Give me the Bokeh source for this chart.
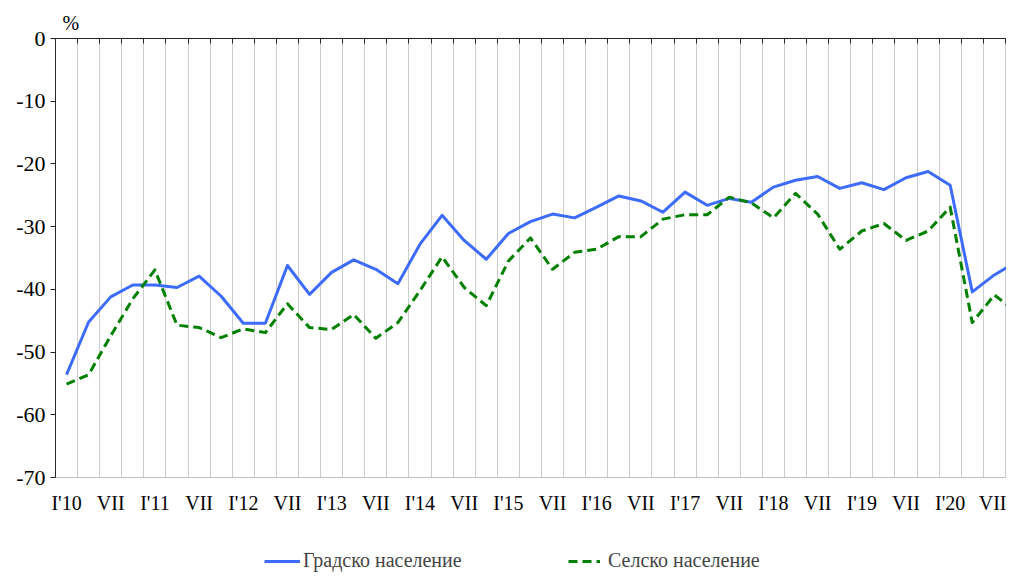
from bokeh.plotting import figure
from bokeh.layouts import column
from bokeh.models import Range1d, LinearAxis, FixedTicker, Legend, LegendItem
from bokeh.embed import file_html
from bokeh.resources import INLINE

# Quarterly periods 2010 Q1 .. 2020 Q4
periods = ["I'10", "IV'10", "VII'10", "X'10", "I'11", "IV'11", "VII'11", "X'11",
           "I'12", "IV'12", "VII'12", "X'12", "I'13", "IV'13", "VII'13", "X'13",
           "I'14", "IV'14", "VII'14", "X'14", "I'15", "IV'15", "VII'15", "X'15",
           "I'16", "IV'16", "VII'16", "X'16", "I'17", "IV'17", "VII'17", "X'17",
           "I'18", "IV'18", "VII'18", "X'18", "I'19", "IV'19", "VII'19", "X'19",
           "I'20", "IV'20", "VII'20", "X'20"]

urban = [-53.6, -45.2, -41.2, -39.3, -39.3, -39.7, -37.9, -41.1, -45.4, -45.4, -36.2,
         -40.8, -37.3, -35.3, -36.8, -39.1, -32.8, -28.2, -32.2, -35.2, -31.1, -29.2,
         -28.0, -28.6, -26.9, -25.1, -25.9, -27.7, -24.5, -26.6, -25.5, -26.1, -23.7,
         -22.6, -22.0, -23.9, -23.0, -24.1, -22.2, -21.2, -23.4, -40.4, -37.7, -35.6]

rural = [-55.1, -53.6, -47.4, -41.5, -36.9, -45.7, -46.1, -47.7, -46.3, -46.9, -42.3,
         -46.1, -46.4, -44.0, -47.8, -45.3, -40.2, -34.8, -39.7, -42.6, -35.5, -31.8,
         -36.8, -34.1, -33.6, -31.6, -31.6, -28.8, -28.1, -28.1, -25.3, -26.2, -28.6,
         -24.7, -28.0, -33.6, -30.7, -29.5, -32.2, -30.7, -26.9, -45.3, -40.9, -43.6]

tick_labels = ["I'10", "VII", "I'11", "VII", "I'12", "VII", "I'13", "VII", "I'14", "VII",
               "I'15", "VII", "I'16", "VII", "I'17", "VII", "I'18", "VII", "I'19", "VII",
               "I'20", "VII"]

y_ticks = [0, -10, -20, -30, -40, -50, -60, -70]
y_tick_labels = ["0", "-10", "-20", "-30", "-40", "-50", "-60", "-70"]

series_names = ["Градско население", "Селско население"]
unit_label = "%"

FONT = "Liberation Serif"
BLUE = "#3D6BFE"
GREEN = "#008000"
x = list(range(len(periods)))

p = figure(width=1006, height=520,
           x_range=Range1d(-0.5, 42.55), y_range=Range1d(-70, 0),
           output_backend="svg", toolbar_location=None,
           x_axis_location=None, y_axis_location=None,
           min_border_left=55, min_border_right=0,
           min_border_top=38, min_border_bottom=43)
p.outline_line_color = None
p.background_fill_color = "white"
p.border_fill_color = "white"

# "%" unit as a left-aligned title
p.title.text = unit_label
p.title.align = "left"
p.title.offset = 7
p.title.standoff = 9
p.title.text_font = FONT
p.title.text_font_size = "20px"
p.title.text_font_style = "normal"
p.title.text_color = "black"

# Left axis
yax = LinearAxis(ticker=FixedTicker(ticks=y_ticks))
yax.major_label_overrides = {t: l for t, l in zip(y_ticks, y_tick_labels)}
yax.axis_line_color = "#262626"
yax.major_tick_line_color = "#262626"
yax.major_tick_in = 0
yax.major_tick_out = 5
yax.minor_tick_line_color = None
yax.major_label_standoff = 5
yax.major_label_text_font = FONT
yax.major_label_text_font_size = "22px"
yax.major_label_text_color = "black"
p.add_layout(yax, "left")

# Category boundaries (gridlines and top ticks)
bounds = [i - 0.5 for i in range(len(periods) + 1)]

# Top axis (line at 0 with inward ticks)
tax = LinearAxis(ticker=FixedTicker(ticks=bounds))
tax.axis_line_color = "#262626"
tax.major_tick_line_color = "#262626"
tax.major_tick_in = 5
tax.major_tick_out = 0
tax.minor_tick_line_color = None
tax.major_label_standoff = 0
tax.major_label_text_alpha = 0
tax.major_label_text_font_size = "0px"
p.add_layout(tax, "above")

# Bottom axis with labels
label_pos = [i for i, per in enumerate(periods) if per.startswith("I'") or per.startswith("VII")]
bax = LinearAxis(ticker=FixedTicker(ticks=label_pos))
bax.major_label_overrides = {pos: lab for pos, lab in zip(label_pos, tick_labels)}
bax.axis_line_color = "#bfbfbf"
bax.major_tick_line_color = None
bax.minor_tick_line_color = None
bax.major_label_standoff = 8
bax.major_label_text_font = FONT
bax.major_label_text_font_size = "20px"
bax.major_label_text_color = "black"
p.add_layout(bax, "below")

p.ygrid.visible = False
p.xgrid.ticker = FixedTicker(ticks=bounds)
p.xgrid.grid_line_color = "#cccccc"
p.xgrid.grid_line_width = 1

p.line(x, urban, line_color=BLUE, line_width=3, line_join="round")
p.line(x, rural, line_color=GREEN, line_width=3, line_dash="9 5", line_join="round")

# Legend strip (its frame is aligned with the main frame by the column layout)
lg = figure(width=1006, height=52, x_range=Range1d(0, 951), y_range=Range1d(0, 52),
            output_backend="svg", toolbar_location=None,
            x_axis_location=None, y_axis_location=None,
            min_border=0, min_border_left=0, min_border_right=0,
            min_border_top=0, min_border_bottom=0)
lg.outline_line_color = None
lg.xgrid.visible = False
lg.ygrid.visible = False
nan = float("nan")
d1 = lg.line([nan], [nan], line_color=BLUE, line_width=3)
d2 = lg.line([nan], [nan], line_color=GREEN, line_width=3, line_dash="9 5")

leg1 = Legend(items=[LegendItem(label=series_names[0], renderers=[d1])],
              location=(209, 0), glyph_width=36, glyph_height=20, label_standoff=3,
              padding=0, margin=0, border_line_color=None, background_fill_alpha=0,
              label_text_font=FONT, label_text_font_size="20px", label_height=20)
leg2 = Legend(items=[LegendItem(label=series_names[1], renderers=[d2])],
              location=(513, 0), glyph_width=32, glyph_height=20, label_standoff=8,
              padding=0, margin=0, border_line_color=None, background_fill_alpha=0,
              label_text_font=FONT, label_text_font_size="20px", label_height=20)
lg.add_layout(leg1, "center")
lg.add_layout(leg2, "center")

layout = column(p, lg, spacing=0)
open("out.html", "w").write(file_html(layout, INLINE))
